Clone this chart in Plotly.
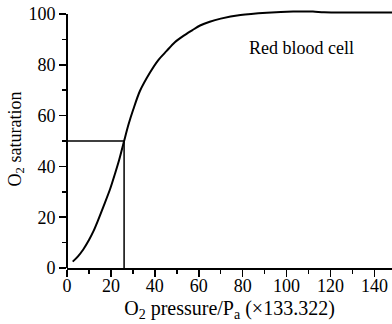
import plotly.graph_objects as go

# O2 dissociation curve of red blood cells
pressure = [2.6, 5, 7.4, 10, 12, 14, 16.5, 19.6, 22, 23.8, 26, 28, 30.2, 33.2, 37.8,
            41.5, 45.4, 49, 53, 57, 60.6, 65, 70, 79, 91, 103, 112, 117, 129, 148]
saturation = [2.5, 4.6, 7.3, 11, 14.4, 18.5, 24, 31, 37.5, 42.7, 50, 56.5, 62.5, 69.7, 77,
              81.8, 85.5, 88.8, 91.4, 93.6, 95.5, 97.0, 98.2, 99.6, 100.5, 101, 101, 100.7, 100.6, 100.6]
p50 = 26
half_sat = 50
x_ticks = [0, 20, 40, 60, 80, 100, 120, 140]
y_ticks = [0, 20, 40, 60, 80, 100]

FONT = "'Liberation Serif', 'Times New Roman', Times, serif"

fig = go.Figure()
fig.add_trace(go.Scatter(x=pressure, y=saturation, mode="lines",
                         line=dict(color="black", width=2, shape="spline", smoothing=0.8),
                         hoverinfo="skip", showlegend=False))
fig.add_trace(go.Scatter(x=[0, p50, p50], y=[half_sat, half_sat, 0], mode="lines",
                         line=dict(color="black", width=1.5),
                         hoverinfo="skip", showlegend=False))

fig.add_annotation(x=107, y=86.6, text="Red blood cell", showarrow=False,
                   font=dict(family=FONT, size=18, color="black"))

# y axis line only up to 100
fig.add_shape(type="line", xref="paper", yref="y", x0=0, x1=0, y0=0, y1=100,
              line=dict(color="black", width=2))

fig.update_layout(
    width=392, height=324,
    margin=dict(l=67, r=0, t=10, b=56),
    plot_bgcolor="white", paper_bgcolor="white",
    font=dict(family=FONT, size=18, color="black"),
    xaxis=dict(range=[0, 148], tickvals=x_ticks, ticks="outside", ticklen=7, tickwidth=1.5,
               tickcolor="black", showline=True, linecolor="black", linewidth=2,
               showgrid=False, zeroline=False, ticklabelstandoff=-7,
               minor=dict(dtick=10, ticks="outside", ticklen=4, tickwidth=1.5, tickcolor="black"),
               title=dict(text="O<sub>2</sub> pressure/P<sub>a</sub> (×133.322)", standoff=6,
                          font=dict(family=FONT, size=20))),
    yaxis=dict(range=[0, 101.6], tickvals=y_ticks, ticks="outside", ticklen=7, tickwidth=1.5,
               tickcolor="black", showline=False, showgrid=False, zeroline=False,
               minor=dict(dtick=10, ticks="outside", ticklen=4, tickwidth=1.5, tickcolor="black"),
               title=dict(text="O<sub>2</sub> saturation", standoff=2,
                          font=dict(family=FONT, size=18))),
)

fig.write_html("out.html", config={"displayModeBar": False, "staticPlot": True})

# remove the default page margin so the figure sits at the window's corner
with open("out.html", encoding="utf-8") as f:
    html = f.read()
html = html.replace("<head>", "<head><style>html,body{margin:0;padding:0;overflow:hidden}</style>", 1)
with open("out.html", "w", encoding="utf-8") as f:
    f.write(html)
